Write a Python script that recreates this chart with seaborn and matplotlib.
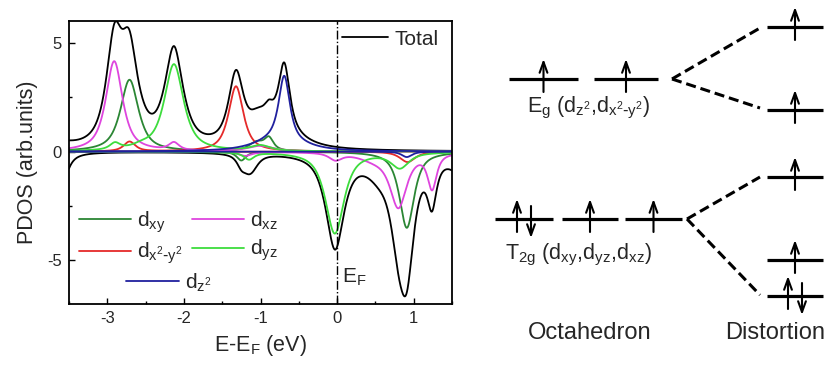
import numpy as np
import pandas as pd
import matplotlib
matplotlib.use("Agg")
import matplotlib.pyplot as plt
from matplotlib.lines import Line2D
from matplotlib.ticker import MultipleLocator
import seaborn as sns

# ---------------- data ----------------
# peaks: (energy eV, height arb.units, half width eV); negative height = spin down
orbitals = ["dxy", "dx2-y2", "dxz", "dyz", "dz2"]
dxy_up = [(-2.71, 3.30, 0.14), (-1.05, 0.40, 0.12), (-0.89, 0.55, 0.07)]
dxy_dn = [(0.91, -3.50, 0.115), (-1.25, -0.40, 0.07)]
dx2y2_up = [(-1.32, 3.00, 0.115), (-2.71, 0.45, 0.09)]
dx2y2_dn = [(0.92, -0.48, 0.12)]
dxz_up = [(-2.91, 4.15, 0.13), (-2.13, 0.35, 0.08), (-1.00, 0.25, 0.20)]
dxz_dn = [(0.80, -2.45, 0.13), (1.24, -1.60, 0.07), (-0.02, -0.32, 0.10),
          (-1.20, -0.18, 0.10), (0.50, -0.30, 0.25)]
dyz_up = [(-2.13, 4.00, 0.15), (-2.90, 0.30, 0.08), (-2.55, 0.15, 0.15),
          (-1.00, 0.25, 0.15)]
dyz_dn = [(-0.03, -3.75, 0.145), (0.82, -0.70, 0.14), (-1.15, -0.32, 0.08)]
dz2_up = [(-0.69, 2.90, 0.085), (-0.75, 0.60, 0.35)]
dz2_dn = [(0.91, -0.25, 0.08)]
other_up = [(-3.60, 0.25, 0.20), (-0.75, 0.30, 0.20), (-2.90, 0.08, 0.10),
            (-2.73, 0.30, 0.10), (-2.13, 0.12, 0.12), (-1.32, 0.20, 0.12)]
other_dn = [(-3.62, -1.90, 0.10), (1.65, -1.00, 0.15), (0.00, -0.25, 0.15),
            (0.55, -0.35, 0.15), (-1.10, -0.45, 0.10), (1.23, -0.40, 0.07)]

legend_labels = ["d$_{xy}$", "d$_{x^2\\text{-}y^2}$", "d$_{xz}$", "d$_{yz}$", "d$_{z^2}$"]
colors = {"dxy": "#2b8634", "dx2-y2": "#e52a2a", "dxz": "#de45de",
          "dyz": "#3ddc3d", "dz2": "#20209e"}

# ---------------- build curves ----------------
ETA = 0.8
energy = np.linspace(-3.5, 1.5, 1201)


def curve(peaks):
    y = np.zeros_like(energy)
    for c, h, w in peaks:
        d = (energy - c) / w
        y += h * (ETA / (1 + d * d) + (1 - ETA) * np.exp(-np.log(2) * d * d))
    return y


peak_table = {"dxy": (dxy_up, dxy_dn), "dx2-y2": (dx2y2_up, dx2y2_dn),
              "dxz": (dxz_up, dxz_dn), "dyz": (dyz_up, dyz_dn),
              "dz2": (dz2_up, dz2_dn)}
rows = []
tot = {"up": curve(other_up), "dn": curve(other_dn)}
for orb in orbitals:
    for spin, pk in zip(["up", "dn"], peak_table[orb]):
        y = curve(pk)
        tot[spin] = tot[spin] + y
        rows.append(pd.DataFrame({"E": energy, "pdos": y, "orbital": orb, "spin": spin}))
df = pd.concat(rows, ignore_index=True)
df_tot = pd.concat([pd.DataFrame({"E": energy, "pdos": tot[s], "spin": s}) for s in ["up", "dn"]],
                   ignore_index=True)

# ---------------- figure ----------------
sns.set_theme(style="ticks")
plt.rcParams["font.family"] = ["Liberation Sans", "DejaVu Sans"]
plt.rcParams["mathtext.default"] = "regular"
plt.rcParams["axes.unicode_minus"] = False

fig = plt.figure(figsize=(8.31, 3.65), dpi=100)
ax = fig.add_axes([69 / 831, 61 / 365, 383 / 831, 283 / 365])

sns.lineplot(data=df_tot, x="E", y="pdos", units="spin", estimator=None,
             color="black", lw=1.3, ax=ax, legend=False)
sns.lineplot(data=df, x="E", y="pdos", hue="orbital", hue_order=orbitals,
             units="spin", estimator=None, palette=colors, lw=1.3, ax=ax, legend=False)

ax.axvline(0, color="black", lw=1.0, ls="-.")
ax.set_xlim(-3.5, 1.5)
ax.set_ylim(-7, 6)
ax.set_xticks([-3, -2, -1, 0, 1])
ax.set_yticks([-5, 0, 5])
ax.xaxis.set_minor_locator(MultipleLocator(0.5))
ax.yaxis.set_minor_locator(MultipleLocator(2.5))
ax.tick_params(which="both", direction="in", labelsize=12, width=1.0, color="black", pad=5)
ax.tick_params(which="major", length=4)
ax.tick_params(which="minor", length=2.5)
for s in ax.spines.values():
    s.set_linewidth(1.3)
    s.set_color("black")
ax.set_xlabel("E-E$_F$ (eV)", fontsize=15.5, labelpad=5)
ax.set_ylabel("PDOS (arb.units)", fontsize=15.5, labelpad=7)
ax.text(0.07, -6.0, "E$_F$", fontsize=15, va="baseline", ha="left")

# legends
leg_total = ax.legend(handles=[Line2D([], [], color="black", lw=1.3)], labels=["Total"],
                      loc="center left", bbox_to_anchor=(0.713, 0.936), frameon=False,
                      fontsize=15, handlelength=2.2, handletextpad=0.3, borderpad=0,
                      borderaxespad=0)
ax.add_artist(leg_total)
h4 = [Line2D([], [], color=colors[o], lw=1.3) for o in orbitals[:4]]
leg4 = ax.legend(handles=h4, labels=legend_labels[:4], ncol=2, loc="upper left",
                 bbox_to_anchor=(0.025, 0.335), frameon=False, fontsize=15,
                 handlelength=2.5, handletextpad=0.3, columnspacing=0.45,
                 labelspacing=0.3, borderpad=0, borderaxespad=0)
ax.add_artist(leg4)
ax.legend(handles=[Line2D([], [], color=colors["dz2"], lw=1.3)], labels=[legend_labels[4]],
          loc="upper left", bbox_to_anchor=(0.15, 0.115), frameon=False, fontsize=15,
          handlelength=2.5, handletextpad=0.3, borderpad=0, borderaxespad=0)

# ---------------- energy level diagram ----------------
eg_y = 79
eg_x = [(509, 578), (594, 658)]
eg_occ = ["up", "up"]
t2g_y = 219
t2g_x = [(495, 553), (562, 618), (625, 682)]
t2g_occ = ["updown", "up", "up"]
dist_x = (767, 823)
dist_y = [27, 110, 177, 260, 296]
dist_occ = ["up", "up", "up", "up", "updown"]

ax2 = fig.add_axes([480 / 831, 0, 351 / 831, 1])
ax2.set_xlim(480, 831)
ax2.set_ylim(365, 0)
ax2.axis("off")

LW_LEVEL = 2.3


def arrow(x, y0, y1):
    ax2.annotate("", xy=(x, y1), xytext=(x, y0),
                 arrowprops=dict(arrowstyle="->,head_length=0.55,head_width=0.2",
                                 lw=1.5, color="black", shrinkA=0, shrinkB=0,
                                 mutation_scale=14))


def level(x0, x1, y, occ):
    ax2.plot([x0, x1], [y, y], color="black", lw=LW_LEVEL, solid_capstyle="butt")
    xc = (x0 + x1) / 2
    if occ == "up":
        arrow(xc, y + 13, y - 20)
    else:
        arrow(xc - 7, y + 13, y - 20)
        arrow(xc + 7, y - 13, y + 19)


for (x0, x1), o in zip(eg_x, eg_occ):
    level(x0, x1, eg_y, o)
for (x0, x1), o in zip(t2g_x, t2g_occ):
    level(x0, x1, t2g_y, o)
for y, o in zip(dist_y, dist_occ):
    level(dist_x[0], dist_x[1], y, o)

dash = (0, (3.3, 1.6))
ax2.plot([672, 760], [eg_y, 28], color="black", lw=2.2, ls=dash)
ax2.plot([672, 760], [eg_y, 108], color="black", lw=2.2, ls=dash)
ax2.plot([687, 760], [t2g_y, 177], color="black", lw=2.2, ls=dash)
ax2.plot([687, 760], [t2g_y, 295], color="black", lw=2.2, ls=dash)

ax2.text(527, 112, "E$_g$ (d$_{z^2}$,d$_{x^2\\text{-}y^2}$)", fontsize=15.5,
         ha="left", va="baseline")
ax2.text(505, 259, "T$_{2g}$ (d$_{xy}$,d$_{yz}$,d$_{xz}$)", fontsize=15.5,
         ha="left", va="baseline")
ax2.text(590, 333, "Octahedron", fontsize=17, ha="center", va="center")
ax2.text(775, 333, "Distortion", fontsize=17, ha="center", va="center")

fig.savefig("out.png", dpi=100)
